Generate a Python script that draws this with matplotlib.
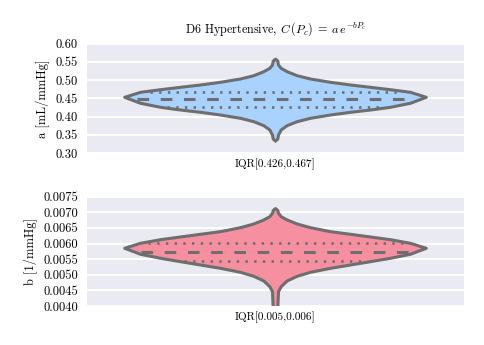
import matplotlib
matplotlib.use("Agg")
import matplotlib.pyplot as plt
import numpy

# violin outlines: value -> half width (in category units)
a_values = [0.333, 0.338, 0.3493, 0.3630, 0.3749, 0.3858, 0.3951, 0.4041, 0.4115, 0.4178, 0.4252,
            0.4362, 0.4526,
            0.4663, 0.4734, 0.4800, 0.4863, 0.4937, 0.5027, 0.5118, 0.5227, 0.5320, 0.5410,
            0.552, 0.557]
a_widths = [0.0, 0.006, 0.008, 0.015, 0.031, 0.0575, 0.093, 0.146, 0.199, 0.252, 0.305,
            0.358, 0.400,
            0.358, 0.305, 0.252, 0.199, 0.146, 0.093, 0.0575, 0.031, 0.015, 0.008,
            0.006, 0.0]
a_quartiles = [0.426, 0.448, 0.467]

b_values = [0.0039, 0.004458, 0.004618, 0.004801, 0.004951, 0.005079, 0.005207, 0.005313,
            0.005419, 0.005528, 0.005656,
            0.005848,
            0.006008, 0.006123, 0.006210, 0.006296, 0.006380, 0.006507, 0.006626, 0.006754,
            0.006860, 0.006968, 0.00706, 0.00712]
b_widths = [0.006, 0.008, 0.015, 0.031, 0.0575, 0.093, 0.146, 0.199,
            0.252, 0.305, 0.358,
            0.400,
            0.358, 0.305, 0.252, 0.199, 0.146, 0.093, 0.0575, 0.031,
            0.015, 0.008, 0.006, 0.0]
b_quartiles = [0.00544, 0.00574, 0.006008]

a_label = "IQR[0.426,0.467]"
b_label = "IQR[0.005,0.006]"
a_ticks = [0.30, 0.35, 0.40, 0.45, 0.50, 0.55, 0.60]
b_ticks = [0.0040, 0.0045, 0.0050, 0.0055, 0.0060, 0.0065, 0.0070, 0.0075]

plt.rcParams['font.family'] = 'serif'
plt.rcParams['font.serif'] = ['cmr10']
plt.rcParams['mathtext.fontset'] = 'cm'
plt.rcParams['axes.formatter.use_mathtext'] = True
plt.rcParams['font.size'] = 9

EDGE = '#6e6e6e'
LW = 2.2


def drawViolin(axis, values, widths, quartiles, color):
    values = numpy.array(values)
    widths = numpy.array(widths)
    axis.fill_betweenx(values, -widths, widths, facecolor=color, edgecolor='none', zorder=2)
    axis.plot(numpy.concatenate([-widths, widths[::-1]]),
              numpy.concatenate([values, values[::-1]]),
              color=EDGE, lw=LW, solid_joinstyle='round', solid_capstyle='round', zorder=3)
    # quartile lines span the violin width at that value
    for i, q in enumerate(quartiles):
        w = numpy.interp(q, values, widths) - 0.02
        if i == 1:
            style = (0, (3.8, 3.8))
            lw = LW
        else:
            style = (0, (0.9, 2.4))
            lw = 1.9
        axis.plot([-w, w], [q, q], color=EDGE, lw=lw, linestyle=style, zorder=4)


def styleAxis(axis, ticks, fmt, label, ylabel):
    axis.set_facecolor('#eaeaf2')
    for s in axis.spines.values():
        s.set_visible(False)
    axis.set_axisbelow(True)
    axis.grid(axis='y', color='white', lw=1.4)
    axis.set_xlim(-0.5, 0.5)
    axis.set_ylim(ticks[0], ticks[-1])
    axis.set_yticks(ticks)
    axis.set_yticklabels([fmt % t for t in ticks])
    axis.set_xticks([0])
    axis.set_xticklabels([label], fontsize=8)
    axis.tick_params(axis='x', length=0, pad=4)
    axis.tick_params(axis='y', length=0, pad=6.5)
    axis.set_ylabel(ylabel)


def main():
    fig = plt.figure(figsize=(4.85, 3.45), dpi=100)
    ax1 = fig.add_axes([0.1794, 0.5565, 0.7773, 0.3174])
    ax2 = fig.add_axes([0.1794, 0.1130, 0.7773, 0.3169])

    drawViolin(ax1, a_values, a_widths, a_quartiles, '#a9d2fe')
    styleAxis(ax1, a_ticks, '%.2f', a_label, 'a [mL/mmHg]')
    ax1.set_title(r"D6 Hypertensive, $C\,(P_c)\;=\;a\,e^{-bP_c}$", fontsize=8.7, pad=8)

    drawViolin(ax2, b_values, b_widths, b_quartiles, '#f68fa0')
    styleAxis(ax2, b_ticks, '%.4f', b_label, 'b [1/mmHg]')

    fig.savefig('out.png', dpi=100)


if __name__ == "__main__":
    main()
